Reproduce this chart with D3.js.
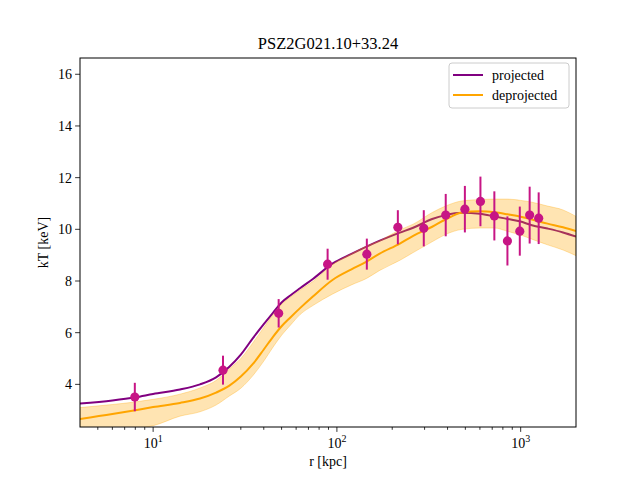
<!DOCTYPE html>
<html>
<head>
	<style>
		body, html { margin: 0; padding: 0; background: #fff; }
		svg text { font-family: "Times New Roman", "Liberation Serif", "DejaVu Serif", "Noto Serif", serif; }
	</style>
</head>
<body>
	<svg id="svg" width="640" height="480"></svg>
	<script src="https://d3js.org/d3.v7.min.js"></script>
	<script>
		// Measured points (radius in kpc, temperature in keV, 1-sigma error)
		const pointR = [7.95, 24.0, 48.2, 89, 145.5, 214.6, 297, 391, 497, 604, 719, 847, 989, 1119, 1253]
		const pointT = [3.51, 4.55, 6.75, 8.65, 9.04, 10.08, 10.04, 10.55, 10.78, 11.08, 10.52, 9.55, 9.93, 10.55, 10.43]
		const pointErr = [0.55, 0.56, 0.55, 0.6, 0.6, 0.66, 0.7, 0.82, 0.9, 0.96, 0.95, 0.95, 0.95, 1.1, 1.0]

		// Model profiles on a common radius grid
		const modelR = [4, 6, 8, 10, 14, 18, 22, 26, 30, 35, 40, 45, 50, 56, 63, 74, 95, 120, 145, 170, 220, 260, 330, 390, 480, 600, 720, 850, 1000, 1150, 1400, 1700, 2000]
		const projected = [3.26, 3.38, 3.5, 3.63, 3.8, 4.0, 4.27, 4.68, 5.15, 5.8, 6.33, 6.78, 7.17, 7.45, 7.72, 8.08, 8.68, 9.05, 9.33, 9.55, 9.87, 10.06, 10.4, 10.55, 10.64, 10.6, 10.5, 10.4, 10.3, 10.16, 10.03, 9.88, 9.72]
		const deprojected = [2.66, 2.85, 3.0, 3.12, 3.28, 3.45, 3.68, 3.95, 4.3, 4.8, 5.35, 5.85, 6.25, 6.6, 6.95, 7.4, 8.05, 8.45, 8.75, 9.05, 9.45, 9.75, 10.1, 10.38, 10.65, 10.7, 10.66, 10.58, 10.49, 10.38, 10.22, 10.08, 9.93]
		const deprojHigh = [3.1, 3.22, 3.32, 3.42, 3.62, 3.86, 4.15, 4.6, 5.0, 5.62, 6.2, 6.7, 7.1, 7.38, 7.65, 7.98, 8.65, 9.05, 9.35, 9.55, 9.98, 10.2, 10.65, 10.9, 11.1, 11.15, 11.17, 11.17, 11.12, 11.05, 10.9, 10.75, 10.5]
		const deprojLow = [2.1, 2.2, 2.28, 2.4, 2.77, 2.94, 3.2, 3.55, 3.85, 4.35, 4.9, 5.45, 5.9, 6.3, 6.7, 7.05, 7.5, 7.85, 8.1, 8.4, 8.8, 9.1, 9.52, 9.8, 10.0, 10.05, 10.05, 9.92, 9.78, 9.62, 9.4, 9.2, 8.98]

		const yTicks = [4, 6, 8, 10, 12, 14, 16]
		const xTicks = [10, 100, 1000]
		const xMinor = [5, 6, 7, 8, 9, 20, 30, 40, 50, 60, 70, 80, 90, 200, 300, 400, 500, 600, 700, 800, 900]

		const margin = { left: 80, right: 64, top: 58, bottom: 53 }
		const width = 640 - margin.left - margin.right
		const height = 480 - margin.top - margin.bottom

		const x = d3.scaleLog().domain([4, 2000]).range([0, width])
		const y = d3.scaleLinear().domain([2.35, 16.63]).range([height, 0])

		const svg = d3.select('#svg')
		const g = svg.append('g').attr('transform', `translate(${margin.left},${margin.top})`)

		g.append('clipPath').attr('id', 'clip')
			.append('rect').attr('width', width).attr('height', height)

		const plot = g.append('g').attr('clip-path', 'url(#clip)')

		const line = vals => d3.line()
			.x((d, i) => x(modelR[i]))
			.y(d => y(d))
			.curve(d3.curveMonotoneX)(vals)

		// projected profile
		plot.append('path')
			.attr('d', line(projected))
			.attr('fill', 'none')
			.attr('stroke', 'purple')
			.attr('stroke-width', 2)

		// deprojected uncertainty band
		const area = d3.area()
			.x((d, i) => x(modelR[i]))
			.y0((d, i) => y(deprojLow[i]))
			.y1((d, i) => y(deprojHigh[i]))
			.curve(d3.curveMonotoneX)
		plot.append('path')
			.attr('d', area(modelR))
			.attr('fill', 'orange')
			.attr('fill-opacity', 0.3)
			.attr('stroke', 'orange')
			.attr('stroke-opacity', 0.3)

		plot.append('path')
			.attr('d', line(deprojected))
			.attr('fill', 'none')
			.attr('stroke', 'orange')
			.attr('stroke-width', 2)

		// data points with error bars
		const pts = g.append('g')
			.selectAll('g')
			.data(pointR)
			.join('g')
			.attr('transform', (d, i) => `translate(${x(d)},${y(pointT[i])})`)
		pts.append('line')
			.attr('y1', (d, i) => y(pointT[i] + pointErr[i]) - y(pointT[i]))
			.attr('y2', (d, i) => y(pointT[i] - pointErr[i]) - y(pointT[i]))
			.attr('stroke', 'mediumvioletred')
			.attr('stroke-width', 2)
		pts.append('circle')
			.attr('r', 4.6)
			.attr('fill', 'mediumvioletred')

		// axes frame
		g.append('rect')
			.attr('width', width).attr('height', height)
			.attr('fill', 'none').attr('stroke', 'black').attr('stroke-width', 1)

		// x axis
		const xAxis = g.append('g').attr('transform', `translate(0,${height})`)
		xAxis.selectAll('.minor')
			.data(xMinor)
			.join('line')
			.attr('x1', d => x(d)).attr('x2', d => x(d))
			.attr('y1', 0).attr('y2', 2.8)
			.attr('stroke', 'black').attr('stroke-width', 0.8)
		const xMaj = xAxis.selectAll('.major')
			.data(xTicks)
			.join('g')
			.attr('transform', d => `translate(${x(d)},0)`)
		xMaj.append('line').attr('y2', 4.9).attr('stroke', 'black').attr('stroke-width', 0.8)
		const xLab = xMaj.append('text')
			.attr('y', 21)
			.attr('text-anchor', 'middle')
			.attr('font-size', 14)
		xLab.append('tspan').text('10')
		xLab.append('tspan')
			.attr('font-size', 10)
			.attr('dy', -6)
			.text(d => Math.round(Math.log10(d)))

		// y axis
		const yAx = g.append('g')
			.selectAll('g')
			.data(yTicks)
			.join('g')
			.attr('transform', d => `translate(0,${y(d)})`)
		yAx.append('line').attr('x2', -4.9).attr('stroke', 'black').attr('stroke-width', 0.8)
		yAx.append('text')
			.attr('x', -8)
			.attr('dy', '0.35em')
			.attr('text-anchor', 'end')
			.attr('font-size', 14)
			.text(d => d)

		// labels
		svg.append('text')
			.attr('x', margin.left + width / 2).attr('y', 49)
			.attr('text-anchor', 'middle')
			.attr('font-size', 16.5)
			.text('PSZ2G021.10+33.24')
		svg.append('text')
			.attr('x', margin.left + width / 2).attr('y', 466)
			.attr('text-anchor', 'middle')
			.attr('font-size', 14)
			.text('r [kpc]')
		svg.append('text')
			.attr('transform', `translate(48,${margin.top + height / 2}) rotate(-90)`)
			.attr('text-anchor', 'middle')
			.attr('font-size', 14)
			.text('kT [keV]')

		// legend
		const legend = g.append('g').attr('transform', `translate(${width - 127},5)`)
		legend.append('rect')
			.attr('width', 120).attr('height', 45).attr('rx', 3)
			.attr('fill', 'white').attr('fill-opacity', 0.8)
			.attr('stroke', '#ccc').attr('stroke-width', 1)
		const items = [['projected', 'purple'], ['deprojected', 'orange']]
		const li = legend.selectAll('.item')
			.data(items)
			.join('g')
			.attr('transform', (d, i) => `translate(0,${12 + i * 20})`)
		li.append('line')
			.attr('x1', 4).attr('x2', 34)
			.attr('stroke', d => d[1]).attr('stroke-width', 2)
		li.append('text')
			.attr('x', 43).attr('dy', '0.35em')
			.attr('font-size', 14)
			.text(d => d[0])
	</script>
</body>
</html>
